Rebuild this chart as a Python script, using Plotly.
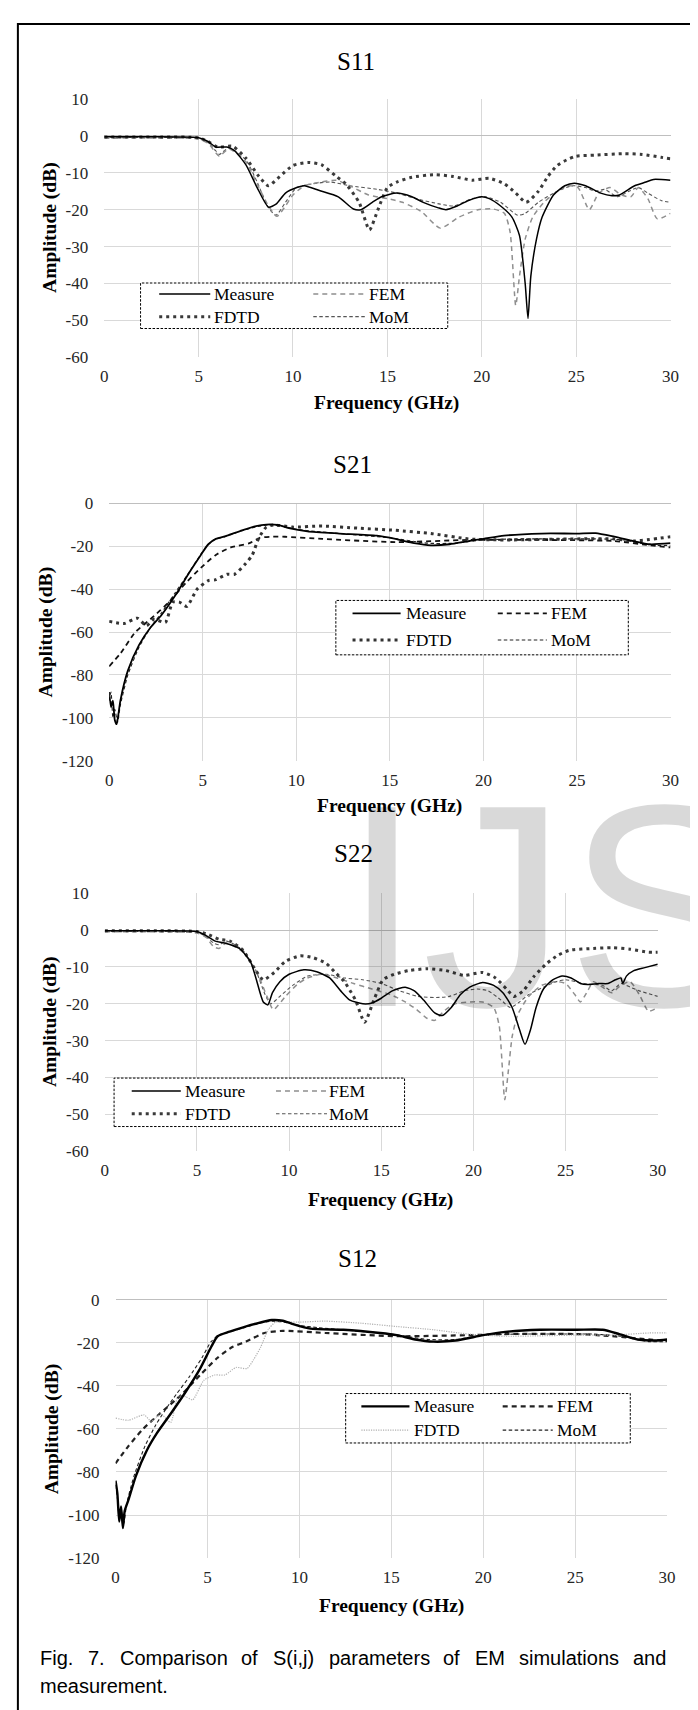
import plotly.graph_objects as go

W, H = 698, 1710

# ---------------- data ----------------
FREQ_TICKS = [0, 5, 10, 15, 20, 25, 30]
REFL_TICKS = [10, 0, -10, -20, -30, -40, -50, -60]
TRANS_TICKS = [0, -20, -40, -60, -80, -100, -120]
SERIES = ["Measure", "FEM", "FDTD", "MoM"]
TITLES = ["S11", "S21", "S22", "S12"]
CAPTION_LINE1 = ["Fig.", "7.", "Comparison", "of", "S(i,j)", "parameters", "of", "EM", "simulations", "and"]
CAPTION_LINE2 = "measurement."

# S11
s11_measure_f = [0, 2, 4, 5, 5.5, 5.9, 6.5, 6.9, 7.5, 8.1, 8.7, 9.1, 9.6, 10.2, 10.6, 11.4, 12.4, 13.2, 13.6, 14.2, 14.7, 15.5, 16.3, 16.9, 17.7, 18.1, 18.7, 19.3, 20.0, 20.4, 21.0, 21.6, 22.0, 22.3, 22.45, 22.6, 22.9, 23.2, 23.8, 24.4, 24.9, 25.5, 26.3, 26.9, 27.3, 28.1, 28.7, 29.1, 30]
s11_measure_db = [-0.2, -0.2, -0.3, -0.5, -1.5, -3.0, -3.0, -4.0, -7.8, -14, -19.3, -18.5, -15.5, -14, -13.5, -14.8, -16.5, -19.8, -20, -18, -16.5, -15.5, -16.5, -18, -19.5, -20, -19, -17.5, -16.5, -17, -19, -22, -27, -40, -49.5, -38, -28, -22, -16, -13.5, -12.8, -13.5, -15.5, -16.2, -16, -13.5, -12.5, -11.8, -12]
s11_fem_f = [0, 3, 5, 5.5, 5.9, 6.1, 6.6, 7.5, 8.1, 8.7, 9.15, 9.6, 10.0, 10.6, 11.5, 12.3, 13.0, 14.0, 15.0, 15.8, 16.8, 17.8, 18.8, 19.8, 20.6, 21.2, 21.5, 21.8, 22.0, 22.3, 22.7, 23.3, 24.0, 24.6, 25.1, 25.7, 26.2, 26.8, 27.4, 27.9, 28.3, 28.8, 29.3, 30]
s11_fem_db = [-0.6, -0.6, -0.8, -2, -4.5, -5.5, -3.5, -7, -13, -19, -21.8, -19, -16, -13.5, -12.5, -12, -13.5, -16, -17, -18, -20.5, -25, -22, -20, -19.8, -21, -26, -46, -38, -28, -22, -18, -15, -13.5, -14, -20, -15.5, -14, -16, -16.5, -14, -17, -22.5, -21]
s11_fdtd_f = [0, 3, 5, 5.5, 6.0, 6.8, 7.5, 8.2, 8.7, 9.3, 10.0, 10.8, 11.5, 12.3, 12.8, 13.5, 14.05, 14.5, 15.0, 15.5, 16.3, 17.5, 18.5, 19.5, 20.4, 21.2, 21.8, 22.35, 23.0, 23.5, 24.0, 24.5, 25.0, 26.0, 27.5, 28.5, 29.5, 30]
s11_fdtd_db = [-0.3, -0.3, -0.5, -1.5, -3, -2.8, -6, -11, -13.5, -11, -8, -7.2, -7.8, -11, -13, -18, -25.5, -20, -14, -12.5, -11.2, -10.5, -11, -12, -11.5, -13, -15.5, -18, -15, -11, -8, -6.5, -5.5, -5.2, -4.8, -5, -5.8, -6.2]
s11_mom_f = [0, 3, 5, 5.5, 5.9, 6.1, 6.6, 7.5, 8.1, 8.7, 9.1, 9.6, 10.2, 11.0, 12.0, 13.0, 14.5, 15.5, 16.5, 17.8, 18.5, 19.5, 20.2, 21.0, 21.9, 22.3, 23.0, 24.0, 24.8, 25.5, 26.0, 26.5, 27.2, 27.8, 28.3, 28.8, 29.5, 30]
s11_mom_db = [-0.4, -0.4, -0.6, -1.8, -4, -5, -3.2, -6.5, -12.5, -19.5, -21.5, -18, -14, -13, -12.5, -13.5, -14.5, -15.5, -17, -18.5, -19, -17, -16.5, -18, -21.5, -21, -18, -15, -13.5, -14, -15, -14.5, -16.5, -15, -14, -15.5, -17.5, -18]

# S21
s21_measure_f = [0, 0.1, 0.2, 0.3, 0.4, 0.5, 0.6, 1.0, 1.6, 2.2, 2.8, 3.6, 4.3, 4.9, 5.3, 5.7, 6.3, 7.1, 7.85, 8.4, 9.0, 9.6, 10.6, 12.3, 14.3, 15.3, 16.3, 17.2, 18.2, 19.2, 20.0, 21.1, 23.1, 25.0, 26.0, 27.0, 28.0, 28.9, 30]
s21_measure_db = [-88, -95, -92, -101, -103, -98, -92, -78, -66, -58, -52, -42, -32, -24, -19, -16.5, -15, -12.5, -10.5, -9.8, -10, -11.5, -13, -14, -15, -16.5, -18.5, -19.5, -19, -17.5, -16.5, -15, -14, -14, -13.8, -15.5, -17.5, -19, -18.5]
s21_fem_f = [0, 0.6, 1.4, 2.2, 3.2, 4.1, 4.9, 5.7, 6.5, 7.5, 8.05, 8.6, 9.4, 11.4, 15.3, 19.2, 23.1, 27.0, 28.9, 30]
s21_fem_db = [-76, -70, -60, -54, -46, -37, -30, -24, -20.5, -18.5, -16, -15.5, -15.5, -16.5, -18, -17, -17, -17.5, -19.5, -20.5]
s21_fdtd_f = [0, 0.8, 1.5, 2.0, 2.4, 3.0, 3.4, 3.75, 4.15, 4.7, 5.3, 5.7, 6.3, 6.7, 7.3, 7.65, 8.0, 8.4, 8.8, 9.8, 11.4, 13.3, 15.3, 17.2, 19.2, 21.1, 25.0, 27.0, 28.0, 30]
s21_fdtd_db = [-55, -56, -53.5, -57, -54, -55.5, -46, -46, -48, -40, -36, -35.5, -33, -33, -28, -24, -16, -11, -10, -11, -10.5, -11.5, -12.5, -14, -16.5, -17, -16.5, -16.5, -17.5, -15.5]
s21_mom_f = [0, 0.1, 0.2, 0.3, 0.45, 0.6, 1.0, 1.6, 2.2, 2.8, 3.5, 4.2, 4.8, 5.2, 5.6, 6.2, 7.0, 7.8, 8.5, 9.2, 10.0, 11.0, 13.0, 15.0, 17.0, 18.5, 20.0, 22.0, 24.0, 26.0, 27.5, 29.0, 30]
s21_mom_db = [-92, -88, -100, -96, -102, -94, -80, -67, -58, -51, -42, -33, -25, -20, -17, -15.5, -13, -11, -10, -10.5, -12, -13, -14.5, -16, -18.5, -18.5, -17, -16.5, -16.5, -16.5, -17, -19.5, -19.5]

# S22
s22_measure_f = [0, 3, 5, 5.5, 6.0, 6.5, 7.3, 7.9, 8.2, 8.6, 8.85, 9.1, 9.5, 10.0, 10.8, 11.5, 12.2, 12.8, 13.3, 14.0, 14.5, 15.0, 15.6, 16.3, 16.8, 17.3, 17.9, 18.3, 18.8, 19.3, 19.8, 20.5, 21.1, 21.6, 22.1, 22.5, 22.8, 23.1, 23.4, 23.8, 24.3, 24.8, 25.3, 25.8, 26.2, 26.8, 27.3, 27.7, 28.0, 28.1, 28.3, 28.7, 29.3, 30]
s22_measure_db = [-0.2, -0.2, -0.4, -1.5, -3, -3.5, -5, -8.5, -13, -19.5, -20.3, -17, -14, -12, -10.8, -11.3, -13, -16.5, -19, -20, -19.8, -18.5, -16.5, -15.5, -16.5, -19, -22.5, -23.2, -21, -17.5, -15.5, -14.2, -15, -17, -21, -27, -31, -27, -21, -16, -13.5, -12.5, -13, -14.5, -14.8, -14.5, -14.5, -13.5, -13, -14.5, -12.5, -11, -10.2, -9.3]
s22_fem_f = [0, 3, 5, 5.5, 5.9, 6.2, 6.6, 7.5, 8.3, 8.8, 9.15, 9.8, 10.5, 11.0, 11.8, 12.6, 13.5, 14.5, 15.5, 16.3, 16.9, 17.5, 17.9, 18.4, 19.0, 19.8, 20.5, 21.1, 21.4, 21.7, 21.9, 22.1, 22.4, 23.0, 23.7, 24.5, 25.0, 25.5, 25.8, 26.2, 26.5, 27.0, 27.5, 28.0, 28.5, 29.0, 29.5, 30]
s22_fem_db = [-0.5, -0.5, -0.8, -2, -4.5, -5, -3.5, -6, -12, -18, -21.6, -18, -14.5, -13, -12, -13, -14.5, -16, -17.5, -19.5, -21.5, -24, -24.5, -22, -20, -19.5, -19.5, -21, -26, -46, -38, -29, -23, -18, -15, -14, -14.5, -17.5, -19.5, -16.5, -14, -15.5, -17, -15, -14, -17.5, -22, -21]
s22_fdtd_f = [0, 3, 5, 5.5, 6.2, 6.8, 7.5, 8.2, 8.6, 9.2, 9.8, 10.6, 11.3, 12.0, 12.5, 13.0, 13.6, 14.1, 14.6, 15.1, 15.7, 16.5, 17.5, 18.5, 19.5, 20.5, 21.2, 21.8, 22.2, 22.7, 23.3, 24.0, 24.6, 25.2, 26.5, 27.5, 28.5, 29.5, 30]
s22_fdtd_db = [-0.2, -0.2, -0.4, -1, -2.5, -3, -5.5, -11, -13.5, -11.5, -8.5, -7, -7.5, -9, -11.5, -14, -19, -25, -19, -13.5, -12, -11, -10.5, -11, -12.3, -11.5, -13, -16, -18, -16.5, -12.5, -9, -6.8, -5.5, -5, -4.8, -5.2, -6, -6]
s22_mom_f = [0, 3, 5, 5.5, 5.9, 6.2, 6.6, 7.5, 8.2, 8.7, 9.0, 9.5, 10.2, 11.0, 12.0, 13.0, 14.0, 15.0, 16.0, 17.0, 18.0, 18.7, 19.5, 20.2, 20.8, 21.5, 22.0, 22.5, 23.0, 23.8, 24.5, 25.0, 26.0, 27.0, 27.5, 28.0, 28.5, 29.0, 30]
s22_mom_db = [-0.4, -0.4, -0.6, -1.8, -3.5, -4, -3, -5.5, -11, -17.5, -20, -18, -15, -12.5, -12, -13, -13.5, -14.5, -16.5, -18, -18.3, -18, -16.5, -16, -16.5, -19, -21, -19.5, -17.5, -15.5, -14, -13.5, -14.5, -15, -16.5, -14.5, -15.5, -16.5, -18]

# S12
s12_measure_f = [0, 0.1, 0.2, 0.3, 0.4, 0.5, 0.7, 1.1, 1.7, 2.25, 3.0, 3.8, 4.6, 5.2, 5.55, 6.15, 6.9, 7.7, 8.5, 9.1, 9.7, 10.6, 12.4, 14.4, 15.3, 16.3, 17.3, 18.5, 20.0, 21.2, 23.1, 25.1, 26.5, 27.4, 28.4, 29.4, 30]
s12_measure_db = [-84, -90, -103, -96, -106, -98, -93, -82, -70, -62, -53, -43, -32, -22, -17, -15, -13, -11, -9.5, -9.8, -11.5, -13.5, -14, -15.5, -16.5, -18.5, -19.5, -19, -16.5, -15, -14, -14, -14, -16, -18.5, -19, -18.5]
s12_fem_f = [0, 0.7, 1.5, 2.4, 3.6, 4.6, 5.55, 6.35, 7.1, 8.1, 9.1, 11.4, 15.3, 19.2, 21.2, 25.1, 27.0, 29.0, 30]
s12_fem_db = [-76, -68, -60, -53, -44, -35, -27, -22, -19.5, -15.5, -14.5, -15.5, -17, -16.5, -16, -16, -17, -18.5, -19]
s12_fdtd_f = [0, 0.7, 1.55, 1.95, 2.45, 3.0, 3.4, 3.8, 4.2, 4.8, 5.4, 5.95, 6.55, 7.15, 7.5, 7.9, 8.3, 8.7, 9.9, 11.4, 13.4, 15.3, 17.3, 19.2, 21.2, 25.1, 27.0, 29.0, 30]
s12_fdtd_db = [-55, -56, -53.5, -56.5, -53, -57, -45, -45, -46.5, -37.5, -35, -35, -31.5, -32, -28, -22, -14, -10.5, -10.5, -10, -11, -12.5, -14, -16, -17, -16.5, -16.5, -15.5, -15.5]
s12_mom_f = [0, 0.1, 0.2, 0.3, 0.45, 0.6, 1.0, 1.6, 2.2, 2.8, 3.3, 4.0, 4.7, 5.2, 5.6, 6.2, 7.0, 7.8, 8.5, 9.2, 10.0, 11.0, 13.0, 15.0, 17.0, 18.5, 20.0, 22.0, 24.0, 26.0, 27.5, 29.0, 30]
s12_mom_db = [-86, -92, -100, -98, -104, -95, -82, -68, -58, -50, -44, -36, -27, -19.5, -16.5, -15, -13, -11, -10, -10.5, -12, -13, -14.5, -16, -18.5, -18.5, -16.5, -16, -16, -16, -17, -19.5, -19.5]

# ---------------- styles / layout (pixels) ----------------
SERIF = "Liberation Serif"
SANS = "Liberation Sans"

def st(color, width, dash):
    return dict(color=color, width=width, dash=dash)

REFL_STYLES = {
    "Measure": st("#000000", 1.5, "solid"),
    "FEM": st("#8f8f8f", 1.5, "5px,4px"),
    "FDTD": st("#3a3a3a", 3, "3px,4px"),
    "MoM": st("#555555", 1.1, "3.5px,2.5px"),
}
TRANS_STYLES = {
    "Measure": st("#000000", 1.8, "solid"),
    "FEM": st("#111111", 1.8, "5px,4px"),
    "FDTD": st("#333333", 3, "3px,4px"),
    "MoM": st("#222222", 1.1, "3.5px,2.5px"),
}
S12_STYLES = dict(TRANS_STYLES)
S12_STYLES["Measure"] = st("#000000", 2.4, "solid")
S12_STYLES["FEM"] = st("#222222", 2.2, "5px,4px")
S12_STYLES["FDTD"] = st("#b0b0b0", 1.2, "1.2px,1.2px")

panels = [
    dict(title="S11", box=(94, 83, 671, 344), yr=(-60, 10), yt=REFL_TICKS, tpos=(351, 45),
         xtitle=(382, 390), ytitle=(38, 213), styles=REFL_STYLES,
         data={"Measure": (s11_measure_f, s11_measure_db), "FEM": (s11_fem_f, s11_fem_db),
               "FDTD": (s11_fdtd_f, s11_fdtd_db), "MoM": (s11_mom_f, s11_mom_db)},
         leg=dict(box=(131, 269, 444, 315), rows=(280, 303), c1=(150, 202, 205), c2=(307, 360, 363))),
    dict(title="S21", box=(99, 492, 671, 752), yr=(-120, 0), yt=TRANS_TICKS, tpos=(347, 453),
         xtitle=(385, 798), ytitle=(35, 622), styles=TRANS_STYLES,
         data={"Measure": (s21_measure_f, s21_measure_db), "FEM": (s21_fem_f, s21_fem_db),
               "FDTD": (s21_fdtd_f, s21_fdtd_db), "MoM": (s21_mom_f, s21_mom_db)},
         leg=dict(box=(330, 590, 628, 645), rows=(603, 630), c1=(347, 396, 400), c2=(495, 545, 548))),
    dict(title="S22", box=(94.5, 886, 658, 1147), yr=(-60, 10), yt=REFL_TICKS, tpos=(348, 846),
         xtitle=(376, 1196), ytitle=(38, 1016), styles=REFL_STYLES,
         data={"Measure": (s22_measure_f, s22_measure_db), "FEM": (s22_fem_f, s22_fem_db),
               "FDTD": (s22_fdtd_f, s22_fdtd_db), "MoM": (s22_mom_f, s22_mom_db)},
         leg=dict(box=(104, 1073, 400, 1122), rows=(1086, 1109), c1=(122, 172, 175), c2=(269, 321, 322))),
    dict(title="S12", box=(105.5, 1297, 667.5, 1558.5), yr=(-120, 0), yt=TRANS_TICKS, tpos=(352, 1255),
         xtitle=(387, 1607), ytitle=(41, 1428), styles=S12_STYLES,
         data={"Measure": (s12_measure_f, s12_measure_db), "FEM": (s12_fem_f, s12_fem_db),
               "FDTD": (s12_fdtd_f, s12_fdtd_db), "MoM": (s12_mom_f, s12_mom_db)},
         leg=dict(box=(340, 1392, 630, 1442), rows=(1405, 1429), c1=(356, 405, 409), c2=(500, 551, 554))),
]

def X(px):
    return px / W

def Y(py):
    return 1 - py / H

fig = go.Figure()
layout = dict(width=W, height=H, margin=dict(l=0, r=0, t=0, b=0),
              paper_bgcolor="white", plot_bgcolor="white", showlegend=False)
shapes = []
annotations = []

tickfont = dict(family=SERIF, size=17, color="#262626")
titlefont = dict(family=SERIF, size=19.5, color="#000000")

for i, p in enumerate(panels):
    n = "" if i == 0 else str(i + 1)
    x0, y0, x1, y1 = p["box"]
    layout["xaxis" + n] = dict(domain=[X(x0), X(x1)], anchor="y" + n, range=[0, 30],
                               tickmode="array", tickvals=FREQ_TICKS, ticktext=[str(v) for v in FREQ_TICKS],
                               showgrid=True, gridcolor="#d9d9d9", gridwidth=1, zeroline=False,
                               showline=False, ticks="", tickfont=dict(tickfont), ticklabelstandoff=7,
                               fixedrange=True)
    layout["yaxis" + n] = dict(domain=[Y(y1), Y(y0)], anchor="x" + n, range=list(p["yr"]),
                               tickmode="array", tickvals=p["yt"], ticktext=[str(v) for v in p["yt"]],
                               showgrid=True, gridcolor="#d9d9d9", gridwidth=1, zeroline=True,
                               zerolinecolor="#bfbfbf", zerolinewidth=1, showline=False, ticks="",
                               tickfont=dict(tickfont), ticklabelstandoff=15, fixedrange=True)
    for name in ["MoM", "FEM", "FDTD", "Measure"]:
        f, db = p["data"][name]
        fig.add_trace(go.Scatter(x=f, y=db, mode="lines", name=name, xaxis="x" + n, yaxis="y" + n,
                                 line=dict(**p["styles"][name], shape="spline", smoothing=0.6),
                                 showlegend=False, hoverinfo="skip"))
    # titles
    annotations.append(dict(text=p["title"], x=X(p["tpos"][0]), y=Y(p["tpos"][1]), xref="paper", yref="paper",
                            showarrow=False, xanchor="center", yanchor="middle",
                            font=dict(family=SERIF, size=25, color="#000000")))
    annotations.append(dict(text="<b>Frequency (GHz)</b>", x=X(p["xtitle"][0]), y=Y(p["xtitle"][1]),
                            xref="paper", yref="paper", showarrow=False, xanchor="center", yanchor="middle",
                            font=titlefont))
    annotations.append(dict(text="<b>Amplitude (dB)</b>", x=X(p["ytitle"][0]), y=Y(p["ytitle"][1]),
                            xref="paper", yref="paper", showarrow=False, xanchor="center", yanchor="middle",
                            textangle=-90, font=titlefont))
    # legend (dashed frame, samples, labels)
    lg = p["leg"]
    bx0, by0, bx1, by1 = lg["box"]
    shapes.append(dict(type="rect", xref="paper", yref="paper", x0=X(bx0), x1=X(bx1), y0=Y(by1), y1=Y(by0),
                       line=dict(color="#000000", width=1, dash="2.5px,1.5px"), fillcolor="white", layer="above"))
    cells = [("Measure", lg["c1"], lg["rows"][0]), ("FEM", lg["c2"], lg["rows"][0]),
             ("FDTD", lg["c1"], lg["rows"][1]), ("MoM", lg["c2"], lg["rows"][1])]
    for name, (lx0, lx1, tx), ry in cells:
        s = p["styles"][name]
        shapes.append(dict(type="line", xref="paper", yref="paper", x0=X(lx0), x1=X(lx1), y0=Y(ry), y1=Y(ry),
                           line=dict(color=s["color"], width=s["width"], dash=s["dash"]), layer="above"))
        annotations.append(dict(text=name, x=X(tx), y=Y(ry), xref="paper", yref="paper", showarrow=False,
                                xanchor="left", yanchor="middle", borderpad=0,
                                font=dict(family=SERIF, size=17.5, color="#000000")))

# outer frame
shapes.append(dict(type="rect", xref="paper", yref="paper", x0=X(6), x1=X(695), y0=Y(1716), y1=Y(7),
                   line=dict(color="#000000", width=2), fillcolor="rgba(0,0,0,0)", layer="above"))

# caption (justified first line)
ARIAL_W = {"F": .611, "i": .222, "g": .556, ".": .278, "7": .556, "C": .722, "o": .556, "m": .833,
           "p": .556, "a": .556, "r": .333, "s": .5, "n": .556, "f": .278, "S": .667, "(": .333,
           ",": .278, "j": .222, ")": .333, "e": .556, "t": .278, "E": .667, "M": .833, "u": .556,
           "l": .222, "d": .556}
cap_size = 20
cap_left, cap_right = 28, 665
word_w = [sum(ARIAL_W.get(c, .5) for c in w) * cap_size for w in CAPTION_LINE1]
gap = (cap_right - cap_left - sum(word_w)) / (len(CAPTION_LINE1) - 1)
xpos = cap_left
for w, ww in zip(CAPTION_LINE1, word_w):
    annotations.append(dict(text=w, x=X(xpos), y=Y(1659), xref="paper", yref="paper", showarrow=False,
                            xanchor="left", yanchor="middle", borderpad=0,
                            font=dict(family=SANS, size=cap_size, color="#000000")))
    xpos += ww + gap
annotations.append(dict(text=CAPTION_LINE2, x=X(cap_left), y=Y(1688), xref="paper", yref="paper",
                        showarrow=False, xanchor="left", yanchor="middle", borderpad=0,
                        font=dict(family=SANS, size=cap_size, color="#000000")))

# watermark (multiplied grey)
annotations.append(dict(text="IJS", x=X(335), y=Y(734), xref="paper", yref="paper", showarrow=False,
                        xanchor="left", yanchor="top", borderpad=0,
                        font=dict(family=SANS, size=289, color="rgba(0,0,0,0.15)")))

layout["shapes"] = shapes
layout["annotations"] = annotations
fig.update_layout(**layout)
fig.write_html("out.html")
